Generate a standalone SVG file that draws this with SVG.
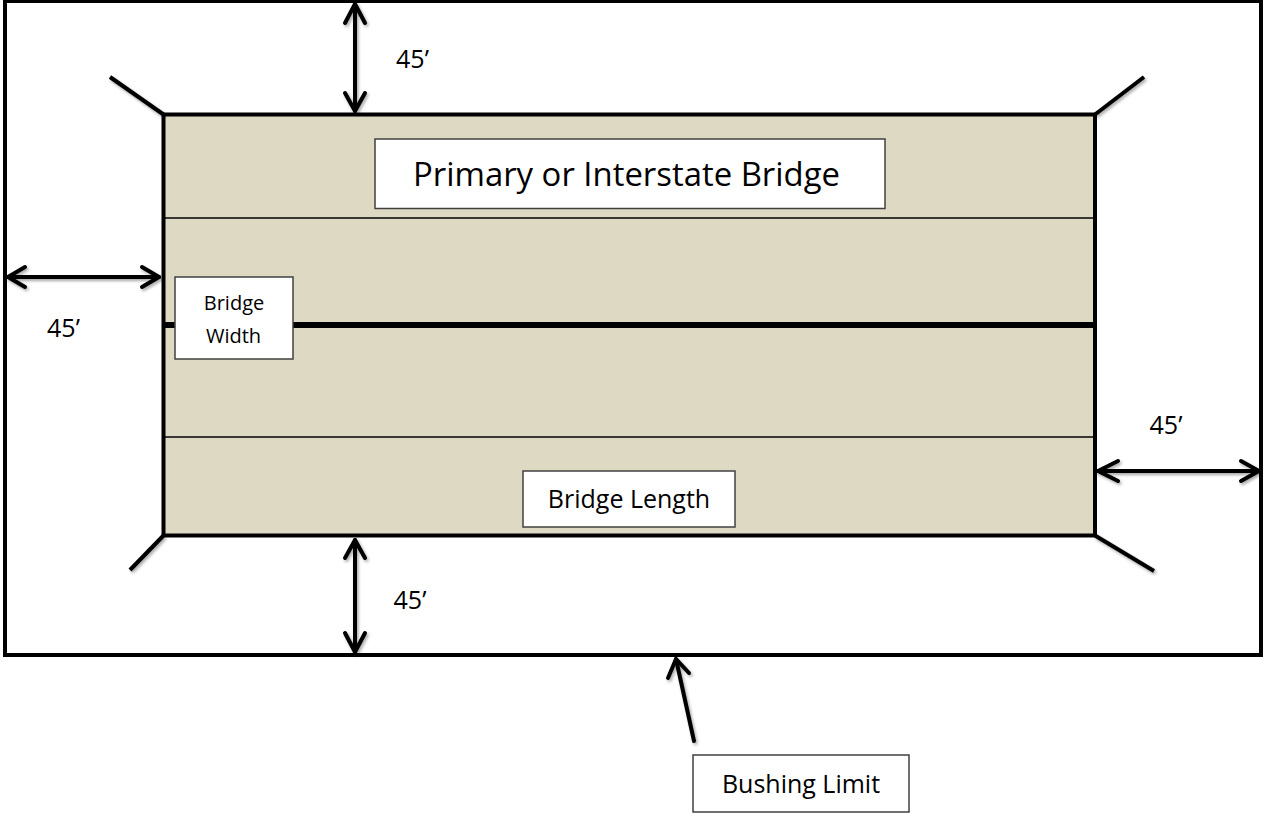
<svg xmlns="http://www.w3.org/2000/svg" width="1263" height="813" viewBox="0 0 1263 813">
  <style>
    .txt { font-family: "Open Sans", "Noto Sans", "DejaVu Sans", sans-serif; fill: #000; text-anchor: middle; }
    .dim { font-size: 25px; }
    .label { fill: #ffffff; stroke: #404040; stroke-width: 1.5; }
    .heavy { fill: none; stroke: #000; stroke-width: 4; }
    .arrow { fill: none; stroke: #000; stroke-width: 4; stroke-linecap: round; stroke-linejoin: round; }
    .wing { fill: none; stroke: #000; stroke-width: 4; stroke-linecap: butt; }
  </style>
  <defs>
    <filter id="shadow" x="-20%" y="-20%" width="140%" height="140%">
      <feDropShadow dx="1.5" dy="2" stdDeviation="1.5" flood-color="#000" flood-opacity="0.35"/>
    </filter>
  </defs>
  <rect width="1263" height="813" fill="#ffffff"/>

  <g id="bushing-boundary">
    <rect class="heavy" x="5" y="1" width="1256" height="654"/>
  </g>

  <g id="bridge">
    <rect x="163.5" y="114.5" width="931.5" height="421" fill="#DDD9C3" stroke="#000" stroke-width="4"/>
    <line x1="163.5" y1="218" x2="1095" y2="218" stroke="#000" stroke-width="1.5"/>
    <line x1="163.5" y1="437" x2="1095" y2="437" stroke="#000" stroke-width="1.5"/>
    <line x1="163.5" y1="325" x2="1095" y2="325" stroke="#000" stroke-width="6"/>
  </g>

  <g id="wing-walls" filter="url(#shadow)">
    <line class="wing" x1="163.5" y1="114.5" x2="110" y2="77"/>
    <line class="wing" x1="1095" y1="114.5" x2="1144" y2="77"/>
    <line class="wing" x1="1095" y1="535.5" x2="1154" y2="571"/>
    <line class="wing" x1="163.5" y1="535.5" x2="130" y2="570"/>
  </g>

  <g id="connectors" filter="url(#shadow)">
    <!-- top 45' -->
    <line class="arrow" x1="355" y1="4" x2="355" y2="111"/>
    <polyline class="arrow" points="345,23 355,4 365,23"/>
    <polyline class="arrow" points="345,93 355,111 365,93"/>
    <!-- bottom 45' -->
    <line class="arrow" x1="355" y1="540" x2="355" y2="652"/>
    <polyline class="arrow" points="345,558 355,540 365,558"/>
    <polyline class="arrow" points="345,633 355,652 365,633"/>
    <!-- left 45' -->
    <line class="arrow" x1="8" y1="277" x2="159" y2="277"/>
    <polyline class="arrow" points="25,267 8,277 25,287"/>
    <polyline class="arrow" points="142,267 159,277 142,287"/>
    <!-- right 45' -->
    <line class="arrow" x1="1098" y1="471" x2="1259" y2="471"/>
    <polyline class="arrow" points="1118,461 1098,471 1118,481"/>
    <polyline class="arrow" points="1241,461 1259,471 1241,481"/>
    <!-- bushing limit pointer -->
    <line class="arrow" x1="694" y1="741" x2="676" y2="659"/>
    <polyline class="arrow" points="668,678 676,659 689,673"/>
  </g>

  <g id="title-box">
    <rect class="label" x="375" y="139" width="510" height="69.5"/>
    <text class="txt" x="626.5" y="186" font-size="32" textLength="427" lengthAdjust="spacingAndGlyphs">Primary or Interstate Bridge</text>
  </g>

  <g id="bridge-width-box">
    <rect class="label" x="175" y="277" width="118" height="82"/>
    <text class="txt" x="234" y="310" font-size="20">Bridge</text>
    <text class="txt" x="233.5" y="343" font-size="20">Width</text>
  </g>

  <g id="bridge-length-box">
    <rect class="label" x="523" y="471" width="212" height="56"/>
    <text class="txt" x="629" y="508" font-size="25">Bridge Length</text>
  </g>

  <g id="bushing-limit-box">
    <rect class="label" x="693" y="755" width="216" height="57"/>
    <text class="txt" x="801" y="793" font-size="25">Bushing Limit</text>
  </g>

  <g id="dimension-labels">
    <text class="txt dim" x="412.5" y="68">45’</text>
    <text class="txt dim" x="63.5" y="337">45’</text>
    <text class="txt dim" x="1166" y="434">45’</text>
    <text class="txt dim" x="410" y="609">45’</text>
  </g>
</svg>
